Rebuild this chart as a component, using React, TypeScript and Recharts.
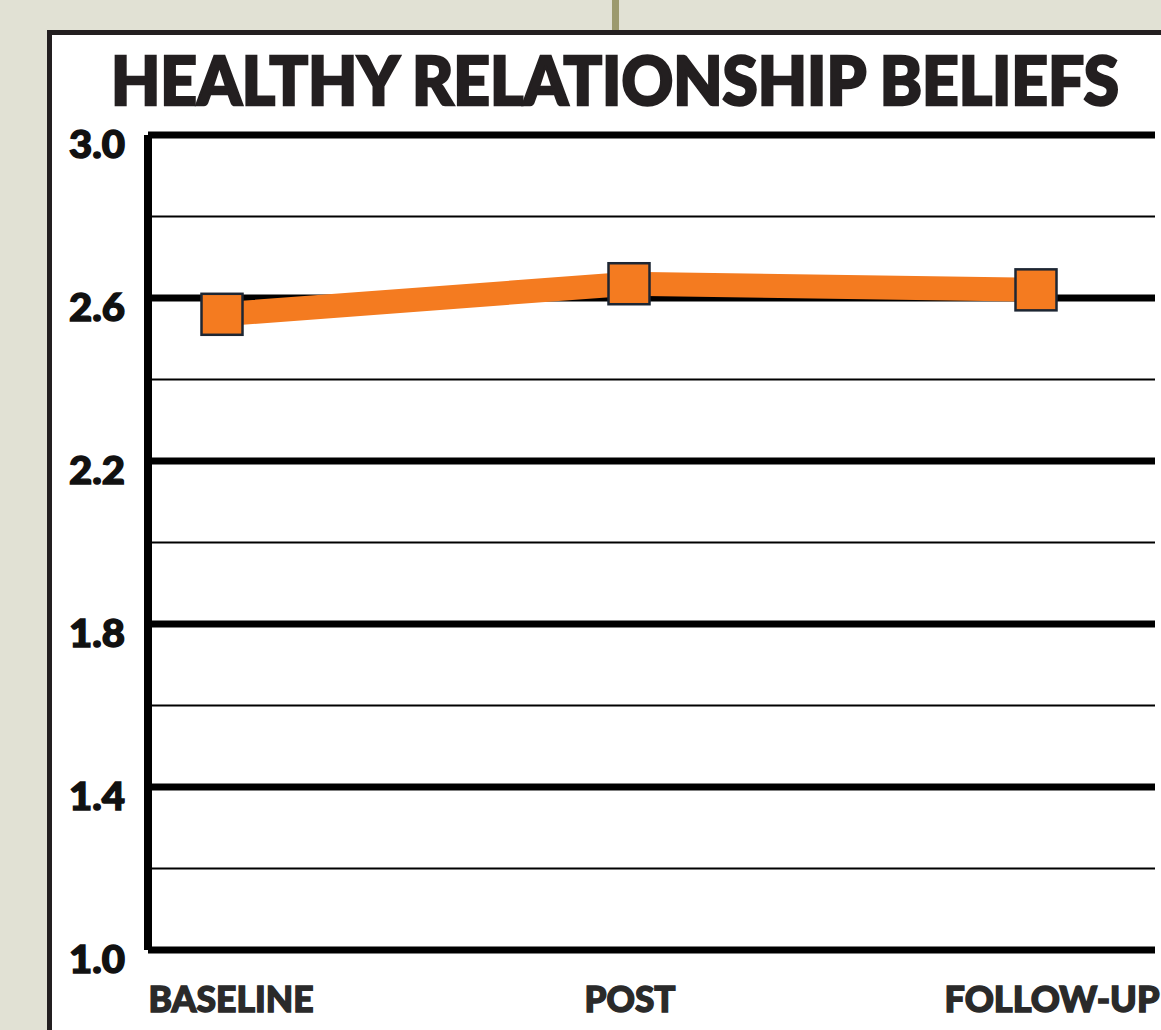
import React from "react";
import { LineChart, Line, XAxis, YAxis, ReferenceLine } from "recharts";

const title = "HEALTHY RELATIONSHIP BELIEFS";
const categories = ["BASELINE", "POST", "FOLLOW-UP"];
const beliefScores = [2.56, 2.635, 2.62];
const yTicks = [1.0, 1.4, 1.8, 2.2, 2.6, 3.0];
const minorGrid = [1.2, 1.6, 2.0, 2.4, 2.8];

const data = categories.map((c, i) => ({ name: c, value: beliefScores[i] }));

const FONT = "Lato, 'DejaVu Sans', sans-serif";
const ORANGE = "#f47b20";

// label styling (positions/sizes only)
const xLabelDx = [9, 1, 16];
const xLabelLen = [165, 91, 215];

const XTick = (props: any) => {
  const { x, y, index, payload } = props;
  return (
    <text
      x={x + (xLabelDx[index] ?? 0)}
      y={y + 62}
      textAnchor="middle"
      fontFamily={FONT}
      fontWeight={900}
      fontSize={36}
      fill="#2a2a2a"
      stroke="#2a2a2a"
      strokeWidth={1.4}
      textLength={xLabelLen[index]}
      lengthAdjust="spacingAndGlyphs"
    >
      {payload.value}
    </text>
  );
};

const YTick = (props: any) => {
  const { y, payload } = props;
  return (
    <text
      x={125}
      y={y + 23}
      textAnchor="end"
      fontFamily={FONT}
      fontWeight={900}
      fontSize={37}
      fill="#111"
      stroke="#111"
      strokeWidth={1.4}
      textLength={56}
      lengthAdjust="spacingAndGlyphs"
    >
      {Number(payload.value).toFixed(1)}
    </text>
  );
};

const SquareDot = (props: any) => {
  const { cx, cy, index } = props;
  if (cx == null || cy == null) return null;
  const s = 41;
  return (
    <rect
      key={`dot-${index}`}
      x={cx - s / 2}
      y={cy - s / 2}
      width={s}
      height={s}
      fill={ORANGE}
      stroke="#1d2633"
      strokeWidth={2.5}
    />
  );
};

export default function App() {
  return (
    <div
      style={{
        position: "absolute",
        left: 0,
        top: 0,
        width: 1161,
        height: 1030,
        overflow: "hidden",
        background: "#e1e1d4",
      }}
    >
      <div
        style={{
          position: "absolute",
          left: 612,
          top: 0,
          width: 7,
          height: 34,
          background: "#9c9a6e",
        }}
      />
      <div
        style={{
          position: "absolute",
          left: 47,
          top: 30,
          width: 1200,
          height: 1100,
          border: "5px solid #231f20",
          background: "#ffffff",
          boxSizing: "border-box",
        }}
      />
      <svg
        width={1161}
        height={130}
        style={{ position: "absolute", left: 0, top: 0 }}
      >
        <text
          x={615}
          y={105}
          textAnchor="middle"
          fontFamily={FONT}
          fontWeight={900}
          fontSize={66}
          fill="#231f20"
          stroke="#231f20"
          strokeWidth={2.5}
          textLength={1008}
          lengthAdjust="spacingAndGlyphs"
        >
          {title}
        </text>
      </svg>
      <div style={{ position: "absolute", left: 0, top: 0 }}>
        <LineChart
          width={1161}
          height={1030}
          data={data}
          margin={{ top: 135, right: 6, bottom: 20, left: 0 }}
        >
          <XAxis
            dataKey="name"
            axisLine={false}
            tickLine={false}
            tickSize={0}
            tickMargin={0}
            height={60}
            padding={{ left: 74, right: 119 }}
            tick={<XTick />}
            interval={0}
          />
          <YAxis
            type="number"
            domain={[1, 3]}
            ticks={yTicks}
            width={148}
            axisLine={{ stroke: "#000", strokeWidth: 8 }}
            tickLine={false}
            tick={<YTick />}
            interval={0}
          />
          {minorGrid.map((v) => (
            <ReferenceLine key={`m${v}`} y={v} stroke="#000" strokeWidth={2} />
          ))}
          {yTicks.map((v) => (
            <ReferenceLine key={`M${v}`} y={v} stroke="#000" strokeWidth={7} />
          ))}
          <Line
            type="linear"
            dataKey="value"
            stroke={ORANGE}
            strokeWidth={24}
            dot={<SquareDot />}
            activeDot={false}
            isAnimationActive={false}
          />
        </LineChart>
      </div>
    </div>
  );
}
